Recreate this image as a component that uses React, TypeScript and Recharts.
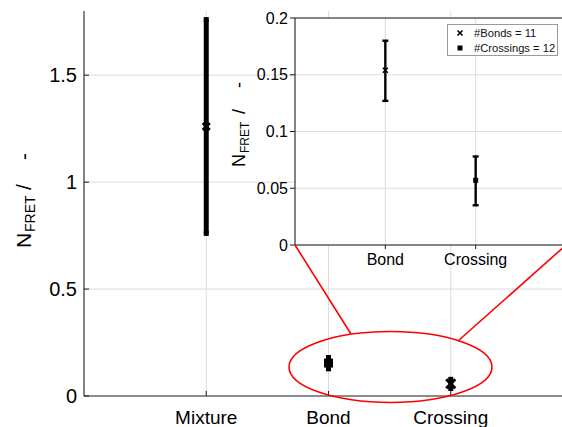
import {
  ComposedChart,
  Scatter,
  ErrorBar,
  XAxis,
  YAxis,
  CartesianGrid,
  ReferenceLine,
  Label,
  Legend,
} from "recharts";

// main plot
const mainCategories = ["Mixture", "Bond", "Crossing"];
const mainMeans = [1.26, 0.154, 0.057];
const mainErrLow = [0.5, 0.027, 0.022];
const mainErrHigh = [0.5, 0.026, 0.021];
const mainYTicks = [0, 0.5, 1, 1.5];

// zoomed inset
const insetCategories = ["Bond", "Crossing"];
const insetMeans = [0.154, 0.057];
const insetErrLow = [0.027, 0.022];
const insetErrHigh = [0.026, 0.021];
const insetYTicks = [0, 0.05, 0.1, 0.15, 0.2];
const legendLabels = ["#Bonds = 11", "#Crossings = 12"];

const FONT = '"Liberation Sans", Arial, Helvetica, sans-serif';
const AXIS = "#1a1a1a";
const GRID = "#dcdcdc";

const mainData = mainCategories.map((name, i) => ({
  pos: i + 1,
  name,
  mean: mainMeans[i],
  err: [mainErrLow[i], mainErrHigh[i]],
}));

const insetData = insetCategories.map((name, i) => ({
  pos: i + 1,
  name,
  mean: insetMeans[i],
  err: [insetErrLow[i], insetErrHigh[i]],
}));

const mainMarker: Record<string, string> = { Mixture: "x", Bond: "square", Crossing: "x" };
const insetMarker = ["x", "square"];

function Marker({ cx, cy, kind, r, w }: any) {
  if (cx == null || cy == null) return null;
  if (kind === "square") {
    return <rect x={cx - r} y={cy - r} width={2 * r} height={2 * r} fill="#000" />;
  }
  return (
    <path
      d={`M${cx - r},${cy - r}L${cx + r},${cy + r}M${cx - r},${cy + r}L${cx + r},${cy - r}`}
      stroke="#000"
      strokeWidth={w}
      fill="none"
    />
  );
}

// N_FRET / -  written upward, with the subscript shifted
function NFretLabel({ x, y, big, small, shift, offs }: any) {
  return (
    <text
      x={x}
      y={y}
      transform={`rotate(-90, ${x}, ${y})`}
      fill="#000"
      fontFamily={FONT}
      style={{ whiteSpace: "pre" }}
    >
      <tspan x={x} fontSize={big}>N</tspan>
      <tspan x={x + offs[0]} dy={shift} fontSize={small}>FRET</tspan>
      <tspan x={x + offs[1]} dy={-shift} fontSize={big}>/</tspan>
      <tspan x={x + offs[2]} fontSize={big}>-</tspan>
    </text>
  );
}

const MainXTick = (props: any) => {
  const { x, y, payload } = props;
  return (
    <g>
      <line x1={x} x2={x} y1={y} y2={y - 5} stroke={AXIS} />
      <text x={x} y={y + 28} textAnchor="middle" fontSize={19} fill="#000" fontFamily={FONT}>
        {mainCategories[payload.value - 1]}
      </text>
    </g>
  );
};

const MainTopTick = (props: any) => {
  const { x, y } = props;
  return <line x1={x} x2={x} y1={y} y2={y + 4} stroke={AXIS} />;
};

const MainYTick = (props: any) => {
  const { x, y, payload } = props;
  return (
    <g>
      <line x1={x} x2={x + 5} y1={y} y2={y} stroke={AXIS} />
      <text x={x - 7} y={y} dy="0.36em" textAnchor="end" fontSize={20} fill="#000" fontFamily={FONT}>
        {String(payload.value)}
      </text>
    </g>
  );
};

const InsetLegend = (props: any) => {
  const { payload } = props;
  return (
    <div
      style={{
        position: "relative",
        border: "1px solid #9a9a9a",
        background: "#fff",
        width: 111,
        height: 32,
        boxSizing: "border-box",
        fontFamily: FONT,
        fontSize: 11.2,
        color: "#111",
        whiteSpace: "nowrap",
      }}
    >
      {(payload || []).map((p: any, i: number) => (
        <div
          key={i}
          style={{ position: "absolute", left: 0, top: 1 + i * 15, height: 14, width: 109 }}
        >
          <svg
            width={10}
            height={10}
            style={{ position: "absolute", left: 7, top: 2 }}
          >
            <Marker cx={5} cy={5} kind={insetMarker[i]} r={2.5} w={1.6} />
          </svg>
          <span style={{ position: "absolute", left: 26, top: 0, lineHeight: "14px" }}>
            {p.value}
          </span>
        </div>
      ))}
    </div>
  );
};

export default function App() {
  return (
    <div
      style={{
        position: "absolute",
        left: 0,
        top: 0,
        width: 562,
        height: 427,
        overflow: "hidden",
        background: "#fff",
        fontFamily: FONT,
      }}
    >
      <div style={{ position: "absolute", left: 0, top: 0 }}>
        <ComposedChart
          width={600}
          height={427}
          data={mainData}
          margin={{ top: 11, right: 27, bottom: 1, left: 0 }}
        >
          <CartesianGrid stroke={GRID} horizontalValues={[0.5, 1, 1.5]} />
          <XAxis
            type="number"
            dataKey="pos"
            domain={[0, 4]}
            ticks={[1, 2, 3]}
            interval={0}
            height={30}
            tickSize={0}
            tickMargin={0}
            tick={<MainXTick />}
            axisLine={{ stroke: AXIS }}
          />
          <XAxis
            xAxisId="top"
            orientation="top"
            type="number"
            dataKey="pos"
            domain={[0, 4]}
            ticks={[1, 2, 3]}
            interval={0}
            height={0}
            tickSize={0}
            tickMargin={0}
            tick={<MainTopTick />}
            axisLine={{ stroke: AXIS }}
          />
          <YAxis
            type="number"
            domain={[0, 1.8]}
            ticks={mainYTicks}
            interval={0}
            width={84}
            tickSize={0}
            tickMargin={0}
            tick={<MainYTick />}
            axisLine={{ stroke: AXIS }}
          >
            <Label
              content={(p: any) => {
                const vb = p.viewBox || { x: 0, y: 11, width: 84, height: 385 };
                return (
                  <NFretLabel
                    x={vb.x + 31}
                    y={vb.y + vb.height - 148}
                    big={21}
                    small={14}
                    shift={4}
                    offs={[16, 58, 88]}
                  />
                );
              }}
            />
          </YAxis>
          <Scatter
            dataKey="mean"
            isAnimationActive={false}
            shape={(p: any) => (
              <Marker
                cx={p.cx}
                cy={p.cy}
                kind={mainMarker[p.payload?.name]}
                r={p.payload?.name === "Mixture" ? 3.5 : 4.5}
                w={3}
              />
            )}
          >
            <ErrorBar dataKey="err" direction="y" width={2.5} strokeWidth={5} stroke="#000" />
          </Scatter>
        </ComposedChart>
      </div>

      <div style={{ position: "absolute", left: 200, top: 0 }}>
        <ComposedChart
          width={366}
          height={275}
          margin={{ top: 18, right: 0, bottom: 0, left: 0 }}
        >
          <CartesianGrid stroke={GRID} fill="#fff" fillOpacity={1} />
          <XAxis
            type="number"
            dataKey="pos"
            domain={[0, 3]}
            ticks={[1, 2]}
            interval={0}
            height={30}
            tickSize={4}
            tickMargin={5}
            tickFormatter={(v: number) => insetCategories[v - 1]}
            tick={{ fontSize: 16, fill: "#000" }}
            tickLine={{ stroke: AXIS }}
            axisLine={{ stroke: AXIS }}
          />
          <YAxis
            type="number"
            domain={[0, 0.2]}
            ticks={insetYTicks}
            interval={0}
            width={95}
            tickSize={5}
            tickMargin={2}
            tickFormatter={(v: number) => String(v)}
            tick={{ fontSize: 16, fill: "#000" }}
            tickLine={{ stroke: AXIS }}
            axisLine={{ stroke: AXIS }}
          >
            <Label
              content={(p: any) => {
                const vb = p.viewBox || { x: 0, y: 18, width: 95, height: 227 };
                return (
                  <NFretLabel
                    x={vb.x + 45}
                    y={vb.y + vb.height - 78}
                    big={18}
                    small={12}
                    shift={3.5}
                    offs={[14, 53, 79]}
                  />
                );
              }}
            />
          </YAxis>
          <ReferenceLine y={0.2} stroke={AXIS} />
          {insetData.map((d, i) => (
            <Scatter
              key={d.name}
              name={legendLabels[i]}
              data={[d]}
              dataKey="mean"
              fill="#000"
              isAnimationActive={false}
              shape={(p: any) => (
                <Marker cx={p.cx} cy={p.cy} kind={insetMarker[i]} r={2.5} w={1.6} />
              )}
            >
              <ErrorBar dataKey="err" direction="y" width={3} strokeWidth={2.4} stroke="#000" />
            </Scatter>
          ))}
          <Legend
            layout="vertical"
            align="center"
            verticalAlign="middle"
            content={<InsetLegend />}
            wrapperStyle={{ position: "absolute", left: 247, top: 24, width: 111, height: 32 }}
          />
        </ComposedChart>
      </div>

      <svg
        width={562}
        height={427}
        style={{ position: "absolute", left: 0, top: 0, pointerEvents: "none" }}
      >
        <line x1={295} y1={245} x2={351} y2={334} stroke="#f00" strokeWidth={1.6} />
        <line x1={566} y1={245} x2={458} y2={341} stroke="#f00" strokeWidth={1.6} />
        <ellipse cx={390.5} cy={367} rx={101.5} ry={35.5} fill="none" stroke="#f00" strokeWidth={1.6} />
      </svg>
    </div>
  );
}
